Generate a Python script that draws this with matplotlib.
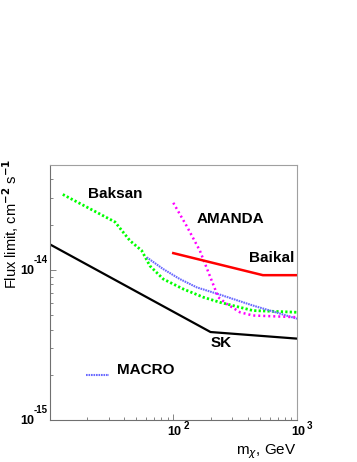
import numpy as np
import matplotlib
matplotlib.use("Agg")
from matplotlib import pyplot as plt

plt.rcParams['font.family'] = ['Liberation Sans', 'DejaVu Sans']

# curves (mass in GeV, flux limit in cm^-2 s^-1)
sk_m = [10, 200, 1000]
sk_f = [1.48e-14, 3.85e-15, 3.48e-15]

baksan_m = [12.8, 33.8, 44.7, 55.6, 64.8, 83, 120, 175, 238, 440, 1000]
baksan_f = [3.17e-14, 2.08e-14, 1.56e-14, 1.34e-14, 1.06e-14, 8.67e-15,
            7.45e-15, 6.56e-15, 6.07e-15, 5.35e-15, 5.21e-15]

macro_m = [61, 83, 113, 155, 238, 443, 604, 1000]
macro_f = [1.21e-14, 1.01e-14, 8.67e-15, 7.63e-15, 6.83e-15, 5.77e-15,
           5.35e-15, 4.72e-15]

amanda_m = [100, 128, 164, 231, 270, 346, 440, 1000]
amanda_f = [2.79e-14, 1.96e-14, 1.34e-14, 6.56e-15, 5.93e-15, 5.21e-15,
            4.96e-15, 4.83e-15]

baikal_m = [100, 530, 1000]
baikal_f = [1.29e-14, 9.2e-15, 9.2e-15]

ytick_vals = [1e-15, 1e-14]
ytick_exp = ['-15', '-14']
xtick_vals = [100, 1000]
xtick_exp = ['2', '3']

fig = plt.figure(figsize=(3.57, 4.62), dpi=100)
ax = fig.add_axes([0.1387, 0.0909, 0.6933, 0.5526])

ax.plot(sk_m, sk_f, color='black', lw=1.6, solid_capstyle='butt')
ax.plot(baksan_m, baksan_f, color='#00ff00', lw=2.0, linestyle=(0, (0.8, 0.8)))
ax.plot(macro_m, macro_f, color='#6a6aff', lw=1.5, linestyle=(0, (0.8, 0.4)))
ax.plot(amanda_m, amanda_f, color='#ff00ff', lw=1.8, linestyle=(0, (0.8, 1.2)))
ax.plot(baikal_m, baikal_f, color='red', lw=1.8)

# MACRO "legend" line
ax.plot([19.7, 30.3], [1.99e-15, 1.99e-15], color='#6a6aff', lw=1.5,
        linestyle=(0, (0.8, 0.4)))

ax.set_xscale('log')
ax.set_yscale('log')
ax.set_xlim(10, 1000)
ax.set_ylim(1e-15, 5e-14)

lab = dict(fontsize=11, fontweight='bold', va='center')
ax.text(33.8, 3.2e-14, 'Baksan', ha='center', **lab)
ax.text(290, 2.18e-14, 'AMANDA', ha='center', **lab)
ax.text(627, 1.2e-14, 'Baikal', ha='center', **lab)
ax.text(246, 3.24e-15, 'SK', ha='center', **lab)
ax.text(35.1, 2.14e-15, 'MACRO', ha='left', **lab)

for s in ax.spines.values():
    s.set_color('#a0a0a0')
    s.set_linewidth(0.8)
ax.spines['left'].set_color('#707070')
ax.spines['bottom'].set_color('#707070')

ax.tick_params(which='both', direction='in', top=False, right=False,
               labelleft=False, labelbottom=False, color='#707070')
ax.tick_params(which='major', length=4.5, width=0.6)
ax.tick_params(which='minor', length=2.5, width=0.6)

# ROOT-like tick labels
for v, e in zip(ytick_vals, ytick_exp):
    ax.annotate('10', xy=(0, v), xycoords=('axes fraction', 'data'),
                xytext=(-15, -1), textcoords='offset pixels',
                ha='right', va='center', fontsize=9, fontweight='bold')
    ax.annotate(e, xy=(0, v), xycoords=('axes fraction', 'data'),
                xytext=(-2, 10), textcoords='offset pixels',
                ha='right', va='center', fontsize=7, fontweight='bold')
for v, e in zip(xtick_vals, xtick_exp):
    ax.annotate('10', xy=(v, 0), xycoords=('data', 'axes fraction'),
                xytext=(1, -12), textcoords='offset pixels',
                ha='center', va='center', fontsize=9, fontweight='bold')
    ax.annotate(e, xy=(v, 0), xycoords=('data', 'axes fraction'),
                xytext=(10, -6), textcoords='offset pixels',
                ha='left', va='center', fontsize=7, fontweight='bold')

fig.text(0.03, 0.515, 'Flux limit, cm$^{\\mathbf{-2}}$ s$^{\\mathbf{-1}}$',
         rotation=90, ha='center', va='center', fontsize=10.5)
fig.text(0.831, 0.022, 'm$_{\\chi}$, GeV', ha='right', va='center', fontsize=11)

fig.savefig('out.png', dpi=100)
